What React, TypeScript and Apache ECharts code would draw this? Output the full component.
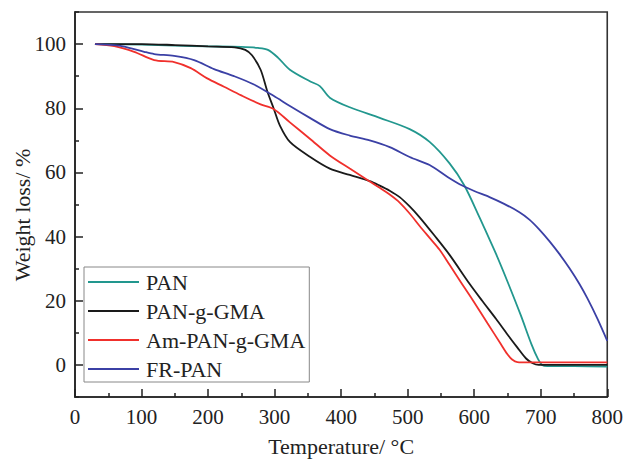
import React, { useEffect, useRef } from "react";
import * as echarts from "echarts";

// TGA curves: [temperature °C, weight %]
const panData: [number, number][] = [
  [30, 100], [100, 99.8], [150, 99.5], [200, 99.3], [250, 99.1], [275, 98.8], [290, 98.2],
  [305, 95.8], [323, 92], [353, 88.4], [368, 86.9], [383, 83.3], [413, 80.3], [458, 77],
  [503, 73.5], [533, 69.5], [563, 62.8], [585, 56], [608, 46], [620, 40.5], [633, 34.5],
  [650, 26], [670, 15.5], [686, 6.5], [696, 1.8], [702, 0], [710, -0.4], [750, -0.4], [800, -0.5],
];
const panGmaData: [number, number][] = [
  [30, 100], [100, 100], [150, 99.7], [200, 99.3], [240, 99], [256, 98.2], [266, 96.5],
  [279, 92], [289, 85.3], [299, 79.7], [308, 74.6], [323, 69.5], [353, 64.9], [383, 61.2],
  [413, 59.2], [443, 57.3], [458, 55.9], [473, 54.3], [488, 52.3], [503, 49.4], [518, 46],
  [540, 40.4], [563, 34.3], [593, 25.3], [612, 20], [633, 14.3], [650, 9.5], [665, 5.4],
  [678, 2], [688, 0.5], [697, 0], [750, 0], [800, 0],
];
const amPanGmaData: [number, number][] = [
  [30, 100], [59, 99.4], [89, 97.6], [119, 95], [149, 94.4], [174, 92.5], [198, 89.4],
  [224, 86.7], [250, 84], [279, 81.2], [299, 79.7], [323, 75.6], [353, 70.5], [383, 65.3],
  [413, 61.2], [443, 57.2], [458, 55.2], [473, 53.1], [488, 50.6], [503, 47.2], [518, 43.3],
  [533, 39.6], [548, 35.9], [563, 31.2], [580, 25.8], [597, 20.5], [620, 13], [640, 6.5],
  [650, 3.3], [657, 1.7], [665, 0.9], [680, 0.8], [750, 0.8], [800, 0.8],
];
const frPanData: [number, number][] = [
  [30, 100], [59, 99.7], [74, 99.2], [104, 97.6], [119, 96.9], [149, 96.3], [179, 95],
  [209, 92.2], [239, 90], [269, 87.4], [299, 83.8], [323, 80.7], [353, 77], [383, 73.5],
  [413, 71.5], [443, 70], [473, 67.9], [503, 64.8], [533, 62.3], [560, 58.6], [582, 55.9],
  [600, 54.2], [623, 52.3], [645, 50.2], [668, 47.6], [683, 45.3], [698, 42.2], [713, 38.6],
  [728, 34.6], [743, 30.2], [758, 25.3], [770, 20.8], [785, 14.5], [800, 7.5],
];

const seriesNames = ["PAN", "PAN-g-GMA", "Am-PAN-g-GMA", "FR-PAN"];
const seriesColors = ["#22978e", "#1a1a1a", "#f0302c", "#3b40a5"];
const seriesData = [panData, panGmaData, amPanGmaData, frPanData];

const yMajorTicks = [0, 20, 40, 60, 80, 100];
const yMinorTicks = [-10, 10, 30, 50, 70, 90, 110];

const FONT = "'Liberation Serif', 'Times New Roman', serif";
const INK = "#222";

export default function App() {
  const ref = useRef<HTMLDivElement>(null);

  useEffect(() => {
    if (!ref.current) return;
    const chart = echarts.init(ref.current, undefined, { renderer: "svg" });
    const axisLine = { show: true, onZero: false, lineStyle: { color: INK, width: 1.6 } };
    const tickLine = { color: INK, width: 1.5 };
    chart.setOption({
      animation: false,
      backgroundColor: "#fff",
      grid: {
        left: 75, right: 18, top: 12, bottom: 60,
        show: true, borderColor: "#333", borderWidth: 1.6, backgroundColor: "transparent",
      },
      legend: {
        orient: "vertical",
        left: 84, top: 267,
        data: seriesNames.map((name) => ({ name, icon: "rect" })),
        itemWidth: 51, itemHeight: 2, itemGap: 7,
        padding: [4, 4, 2, 4],
        borderColor: "#888", borderWidth: 1,
        textStyle: { fontFamily: FONT, fontSize: 22, lineHeight: 22, color: INK, padding: [0, 0, 0, 2] },
      },
      graphic: [
        {
          type: "text",
          x: 22, y: 215,
          rotation: Math.PI / 2,
          style: {
            text: "Weight loss/ %",
            font: `22px ${FONT}`,
            fill: INK,
            align: "center",
            verticalAlign: "middle",
          },
        },
      ],
      xAxis: {
        type: "value", min: 0, max: 800, interval: 100,
        name: "Temperature/ °C", nameLocation: "middle", nameGap: 38,
        nameTextStyle: { fontFamily: FONT, fontSize: 22, color: INK },
        axisLine,
        axisTick: { inside: true, length: 8, lineStyle: tickLine },
        minorTick: { show: true, splitNumber: 2, length: 4, lineStyle: tickLine },
        axisLabel: { fontFamily: FONT, fontSize: 21, color: INK, margin: 9 },
        splitLine: { show: false },
      },
      yAxis: [
        {
          type: "value", min: -10, max: 110,
          axisLine,
          axisTick: { inside: true, length: 8, customValues: yMajorTicks, lineStyle: tickLine },
          axisLabel: { fontFamily: FONT, fontSize: 21, color: INK, margin: 9, customValues: yMajorTicks },
          splitLine: { show: false },
        },
        {
          type: "value", min: -10, max: 110, position: "left", offset: 0,
          axisLine: { show: false },
          axisTick: { inside: true, length: 4, customValues: yMinorTicks, lineStyle: tickLine },
          axisLabel: { show: false },
          splitLine: { show: false },
        },
      ],
      series: seriesNames.map((name, i) => ({
        name,
        type: "line",
        data: seriesData[i],
        yAxisIndex: 0,
        showSymbol: false,
        symbol: "none",
        smooth: 0.3,
        lineStyle: { color: seriesColors[i], width: 1.8 },
        itemStyle: { color: seriesColors[i] },
        z: i === 3 ? 3 : 2,
      })),
    });
    return () => chart.dispose();
  }, []);

  return (
    <div
      ref={ref}
      style={{ position: "fixed", left: 0, top: 0, width: 626, height: 462, background: "#fff" }}
    />
  );
}
